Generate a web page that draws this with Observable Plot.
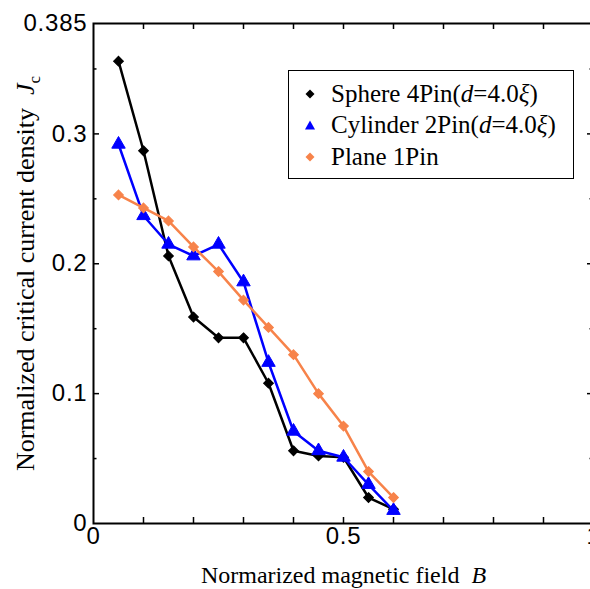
<!DOCTYPE html>
<html>
<head>
<meta charset="utf-8">
<script src="https://cdn.jsdelivr.net/npm/d3@7"></script>
<script src="https://cdn.jsdelivr.net/npm/@observablehq/plot@0.6"></script>
<style>
  html, body { margin: 0; padding: 0; overflow: hidden; background: #fff; }
  #wrap { position: relative; width: 590px; height: 589px; }
  .jc-legend { position: absolute; left: 288px; top: 70px; width: 286px; height: 109px;
            border: 1.5px solid #000; box-sizing: border-box; background: #fff;
            font-family: "Liberation Serif", "Times New Roman", serif; font-size: 25px; color: #000; }
  .jc-legend .row { position: absolute; left: 0; height: 30px; white-space: nowrap; }
  .jc-legend .row svg { position: absolute; left: 16px; top: 10px; }
  .jc-legend .row span { position: absolute; left: 42px; line-height: 30px; top: 0;
            font-family: "Liberation Serif", "Times New Roman", serif; }
</style>
</head>
<body>
<div id="wrap"></div>
<script>
// ---- data ----
const fieldB = [0.05, 0.10, 0.15, 0.20, 0.25, 0.30, 0.35, 0.40, 0.45, 0.50, 0.55, 0.60];
const sphereJc   = [0.356, 0.287, 0.206, 0.159, 0.143, 0.143, 0.108, 0.056, 0.052, 0.051, 0.020, 0.011];
const cylinderJc = [0.292, 0.237, 0.215, 0.206, 0.215, 0.186, 0.124, 0.071, 0.056, 0.051, 0.030, 0.010];
const planeJc    = [0.253, 0.243, 0.233, 0.213, 0.194, 0.172, 0.151, 0.130, 0.100, 0.075, 0.040, 0.020];
const seriesNames = ["Sphere 4Pin(d=4.0ξ)", "Cylinder 2Pin(d=4.0ξ)", "Plane 1Pin"];
const seriesColors = ["#000000", "#0000ff", "#f7834a"];
const seriesSymbols = ["diamond2", "triangle", "diamond2"];

const xTickValues = [0, 0.5, 1];
const xTickLabels = ["0", "0.5", "1"];
const xMinorTicks = [0.1, 0.2, 0.3, 0.4, 0.5, 0.6, 0.7, 0.8, 0.9];
const yTickValues = [0, 0.1, 0.2, 0.3, 0.385];
const yTickLabels = ["0", "0.1", "0.2", "0.3", "0.385"];
const yMajorTicks = [0.1, 0.2, 0.3];
const yMinorTicks = [0.05, 0.15, 0.25, 0.35];
const xTitle = "Normarized magnetic field  B";
const yTitle = "Normalized critical current density  Jc";

// ---- build ----
const allJc = [sphereJc, cylinderJc, planeJc];
const series = seriesNames.map((name, k) => ({
  name, color: seriesColors[k], symbol: seriesSymbols[k],
  data: fieldB.map((b, i) => ({B: b, Jc: allJc[k][i]}))
}));

const serif = "Liberation Serif, Times New Roman, serif";
const sans = "Liberation Sans, Arial, sans-serif";
const TICK = 6;
const PLOT_H = 500, PLOT_W = 500;

const marks = [
  Plot.frame({stroke: "#000", strokeWidth: 2}),
  Plot.tickX(xMinorTicks, {x: d => d, insetTop: PLOT_H - TICK, stroke: "#000", strokeWidth: 1.5}),
  Plot.tickX(xMinorTicks, {x: d => d, insetBottom: PLOT_H - TICK, stroke: "#000", strokeWidth: 1.5}),
  Plot.tickY(yMajorTicks, {y: d => d, insetRight: PLOT_W - TICK, stroke: "#000", strokeWidth: 1.5}),
  Plot.tickY(yMajorTicks, {y: d => d, insetLeft: PLOT_W - TICK, stroke: "#000", strokeWidth: 1.5}),
  Plot.tickY(yMinorTicks, {y: d => d, insetRight: PLOT_W - 3.5, stroke: "#000", strokeWidth: 1.5}),
  Plot.tickY(yMinorTicks, {y: d => d, insetLeft: PLOT_W - 3.5, stroke: "#000", strokeWidth: 1.5}),
  Plot.text(xTickValues, {x: d => d, text: (d, i) => xTickLabels[i], frameAnchor: "bottom", dy: 20,
    fontSize: 24, fontFamily: sans, fill: "#000"}),
  Plot.text(yTickValues, {y: d => d, text: (d, i) => yTickLabels[i], frameAnchor: "left", dx: -6,
    textAnchor: "end", fontSize: 24, fontFamily: sans, fill: "#000"}),
  Plot.text([xTitle], {text: d => d, frameAnchor: "bottom", dy: 59, textAnchor: "middle", fontSize: 24,
    fontFamily: serif, fill: "#000"}),
  Plot.text([yTitle], {text: d => d, frameAnchor: "left", dx: -68, rotate: -90, textAnchor: "middle",
    fontSize: 26, fontFamily: serif, fill: "#000"})
];

for (const s of series) {
  marks.push(Plot.line(s.data, {x: "B", y: "Jc", stroke: s.color, strokeWidth: 2.5}));
  marks.push(Plot.dot(s.data, {x: "B", y: "Jc", symbol: s.symbol, fill: s.color, stroke: s.color,
    strokeWidth: s.symbol === "triangle" ? 1 : 1.2, r: s.symbol === "triangle" ? 5 : 4.3}));
}

const chart = Plot.plot({
  width: 590, height: 589,
  marginLeft: 93, marginRight: -3, marginTop: 23, marginBottom: 66,
  x: {domain: [0, 1], axis: null},
  y: {domain: [0, 0.385], axis: null},
  style: {background: "#fff", overflow: "hidden"},
  marks
});

// rich text for the axis titles (italic symbols, subscript)
const texts = d3.select(chart).selectAll("text");
const xt = texts.filter(function () { return this.textContent === xTitle; });
xt.text(xTitle.slice(0, -1));
xt.append("tspan").attr("font-style", "italic").text(xTitle.slice(-1));
const yt = texts.filter(function () { return this.textContent === yTitle; });
yt.text(yTitle.slice(0, -2));
yt.append("tspan").attr("font-style", "italic").text(yTitle.slice(-2, -1));
yt.append("tspan").attr("font-size", 17).attr("dy", "0.35em").text(yTitle.slice(-1));
const tickLabelSet = new Set([...xTickLabels, ...yTickLabels]);
texts.filter(function () { return tickLabelSet.has(this.textContent); }).style("letter-spacing", "0.8px");

document.getElementById("wrap").appendChild(chart);

const legend = document.createElement("div");
legend.className = "jc-legend";
const rowCenters = [23, 54, 86];
series.forEach((s, k) => {
  const row = document.createElement("div");
  row.className = "row";
  row.style.top = (rowCenters[k] - 15) + "px";
  const shape = s.symbol === "triangle"
    ? `<path d="M5,0.5L10,9.5L0,9.5Z" fill="${s.color}"/>`
    : `<path d="M5,0.5L9.5,5L5,9.5L0.5,5Z" fill="${s.color}"/>`;
  const label = s.name.replace("(d=", "(<i>d</i>=").replace(/ξ/g, "<i>ξ</i>");
  row.innerHTML = `<svg width="10" height="10" viewBox="0 0 10 10">${shape}</svg><span>${label}</span>`;
  legend.appendChild(row);
});
document.getElementById("wrap").appendChild(legend);
</script>
</body>
</html>
